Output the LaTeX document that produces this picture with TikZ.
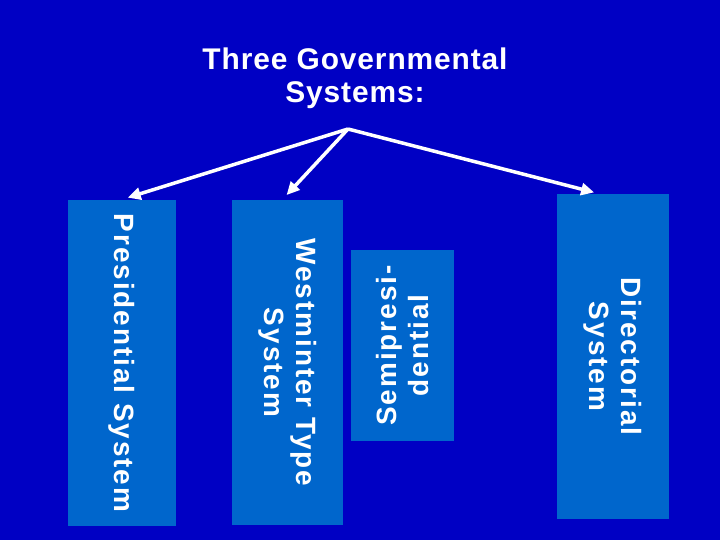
\documentclass[tikz,border=0pt]{standalone}
\usepackage{fontspec}
\setmainfont{Liberation Sans}
\usepackage{xcolor}
\usetikzlibrary{arrows.meta}
\definecolor{slideblue}{RGB}{0,0,196}
\definecolor{barblue}{RGB}{0,102,204}
\newcommand{\titlefont}{\fontsize{30}{33}\selectfont\bfseries\addfontfeatures{LetterSpace=3}}
\newcommand{\barfont}{\fontsize{28}{32}\selectfont\bfseries\addfontfeatures{LetterSpace=7}}
\tikzset{
  bar/.style={fill=barblue, text=white, inner sep=0pt, align=center, font=\barfont},
  link/.style={draw=white, line width=3.5bp, shorten >=6bp,
               -{Triangle[length=13bp,width=12bp]}},
}

\begin{document}
\begin{tikzpicture}[x=1bp, y=-1bp]
\fill[slideblue] (0,0) rectangle (720,540);
\useasboundingbox (0,0) rectangle (720,540);
\node[text=white, font=\titlefont, align=center] (title) at (355,78) {Three Governmental\\Systems:};
\coordinate (apex) at (348,129);
\node[bar, rotate=-90, minimum width=328, minimum height=108] (pres) at (122,363) {Presidential System};
\node[bar, rotate=-90, minimum width=327, minimum height=111] (west) at (287.5,362.5) {Westminter Type\\System};
\node[bar, rotate=90, minimum width=191, minimum height=103] (semi) at (402.5,345.5) {Semipresi-\\dential};
\node[bar, rotate=-90, minimum width=327, minimum height=112] (dir) at (613,356.5) {Directorial\\System};
\draw[link] (apex) -- (pres.west);
\draw[link] (apex) -- ([xshift=-5bp]west.west);
\draw[link, shorten >=4bp] (apex) -- ([xshift=-15bp]dir.west);
\end{tikzpicture}
\end{document}
